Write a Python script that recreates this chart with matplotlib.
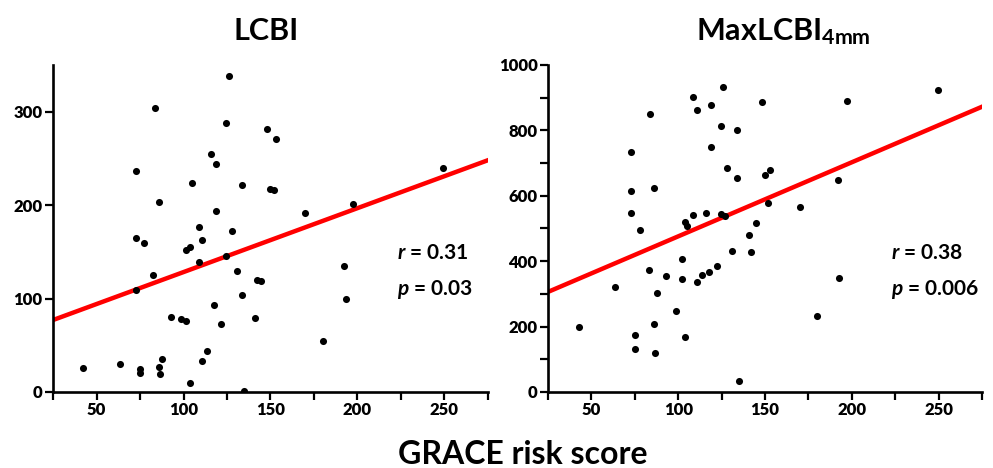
import matplotlib
matplotlib.use("Agg")
import matplotlib.pyplot as plt
from matplotlib.ticker import MultipleLocator

plt.rcParams['font.family'] = ['Lato', 'DejaVu Sans']
plt.rcParams['font.weight'] = 'bold'
plt.rcParams['mathtext.fontset'] = 'custom'
plt.rcParams['mathtext.rm'] = 'Lato:bold'
plt.rcParams['mathtext.bf'] = 'Lato:bold'
plt.rcParams['mathtext.it'] = 'Lato:italic:bold'

# GRACE score vs LCBI
lcbi_x = [42.5, 63.7, 72.6, 72.6, 72.6, 74.9, 74.9, 77.4, 82.6, 83.4, 85.7, 85.7, 86.7,
          87.8, 92.9, 98.7, 101.6, 101.6, 103.9, 104.6, 103.7, 108.7, 108.7, 110.8, 110.8,
          113.7, 115.6, 117.6, 118.9, 118.9, 121.7, 124.7, 124.7, 125.9, 127.6, 131.0,
          133.8, 133.8, 134.8, 141.0, 142.1, 144.8, 147.9, 152.9, 149.8, 151.8, 170.1,
          180.2, 192.1, 193.3, 197.2, 249.3]
lcbi_y = [26, 30, 236, 165, 109, 25, 20, 159, 125, 304, 203, 27, 19,
          35, 80, 78, 76, 152, 155, 224, 10, 177, 139, 163, 33,
          44, 255, 93, 244, 194, 73, 145, 288, 338, 172, 129,
          221, 104, 1.4, 79, 120, 119, 281, 271, 217, 216, 191,
          55, 135, 99, 201, 240]

# GRACE score vs MaxLCBI 4mm
max_x = [42.7, 63.8, 72.9, 72.9, 72.9, 75.0, 75.0, 77.9, 82.9, 83.8, 85.9, 85.9, 86.7,
         87.7, 92.7, 98.8, 101.9, 101.9, 103.8, 103.8, 105.0, 108.6, 108.8, 111.0, 111.0,
         113.8, 115.9, 118.0, 118.8, 118.8, 122.1, 124.8, 125.9, 124.8, 126.9, 128.0,
         130.7, 134.0, 134.0, 135.0, 140.7, 141.9, 145.0, 148.0, 150.0, 153.0, 152.0,
         170.1, 180.1, 192.0, 192.8, 197.0, 249.4]
max_y = [198, 320, 733, 615, 547, 173, 131, 495, 374, 850, 624, 208, 119,
         303, 356, 249, 406, 344, 167, 520, 508, 903, 542, 862, 335,
         357, 546, 367, 878, 750, 386, 812, 933, 545, 537, 684,
         432, 802, 655, 35, 480, 427, 517, 886, 663, 678, 577,
         566, 233, 647, 348, 891, 923]

# regression lines (intercept, slope) as shown
lcbi_fit = [59.9, 0.684]
max_fit = [249.4, 2.264]

titles = ['LCBI', r'MaxLCBI$_{\mathrm{4mm}}$']
stats = [('0.31', '0.03'), ('0.38', '0.006')]
ylims = [350, 1000]
ymajor = [100, 200]
yminor = [100, 100]

fig = plt.figure(figsize=(9.93, 4.68), dpi=100)
ax1 = fig.add_axes([0.0534, 0.1624, 0.438, 0.699])
ax2 = fig.add_axes([0.5519, 0.1624, 0.437, 0.699])

data = [(lcbi_x, lcbi_y, lcbi_fit), (max_x, max_y, max_fit)]
for i, ax in enumerate([ax1, ax2]):
    xs, ys, fit = data[i]
    ax.scatter(xs, ys, s=26, color='black', zorder=3, linewidths=0)
    lx = [25, 275]
    ax.plot(lx, [fit[0] + fit[1] * v for v in lx], color='#ff0000', lw=3.2, zorder=2)
    ax.set_xlim(25, 275)
    ax.set_ylim(0, ylims[i])
    ax.xaxis.set_major_locator(MultipleLocator(50))
    ax.xaxis.set_minor_locator(MultipleLocator(25))
    ax.yaxis.set_major_locator(MultipleLocator(ymajor[i]))
    ax.yaxis.set_minor_locator(MultipleLocator(yminor[i]))
    for s in ['top', 'right']:
        ax.spines[s].set_visible(False)
    for s in ['left', 'bottom']:
        ax.spines[s].set_linewidth(1.9)
    ax.tick_params(which='both', direction='out', length=5.5, width=1.6, labelsize=12, pad=2)
    ax.text(0.79, 0.425, '$r$ = ' + stats[i][0], transform=ax.transAxes,
            fontsize=15, fontweight='bold', va='center', ha='left')
    ax.text(0.79, 0.312, '$p$ = ' + stats[i][1], transform=ax.transAxes,
            fontsize=15, fontweight='bold', va='center', ha='left')

fig.text(0.268, 0.915, titles[0], fontsize=22, fontweight='bold', ha='center', va='baseline')
fig.text(0.789, 0.915, titles[1], fontsize=22, fontweight='bold', ha='center', va='baseline')

fig.text(0.526, 0.008, 'GRACE risk score', fontsize=23, fontweight='bold',
         ha='center', va='baseline')

fig.canvas.draw()
for ax in [ax1, ax2]:
    for lab in ax.get_xticklabels() + ax.get_yticklabels():
        lab.set_fontweight('heavy')

fig.savefig('out.png', dpi=100)
